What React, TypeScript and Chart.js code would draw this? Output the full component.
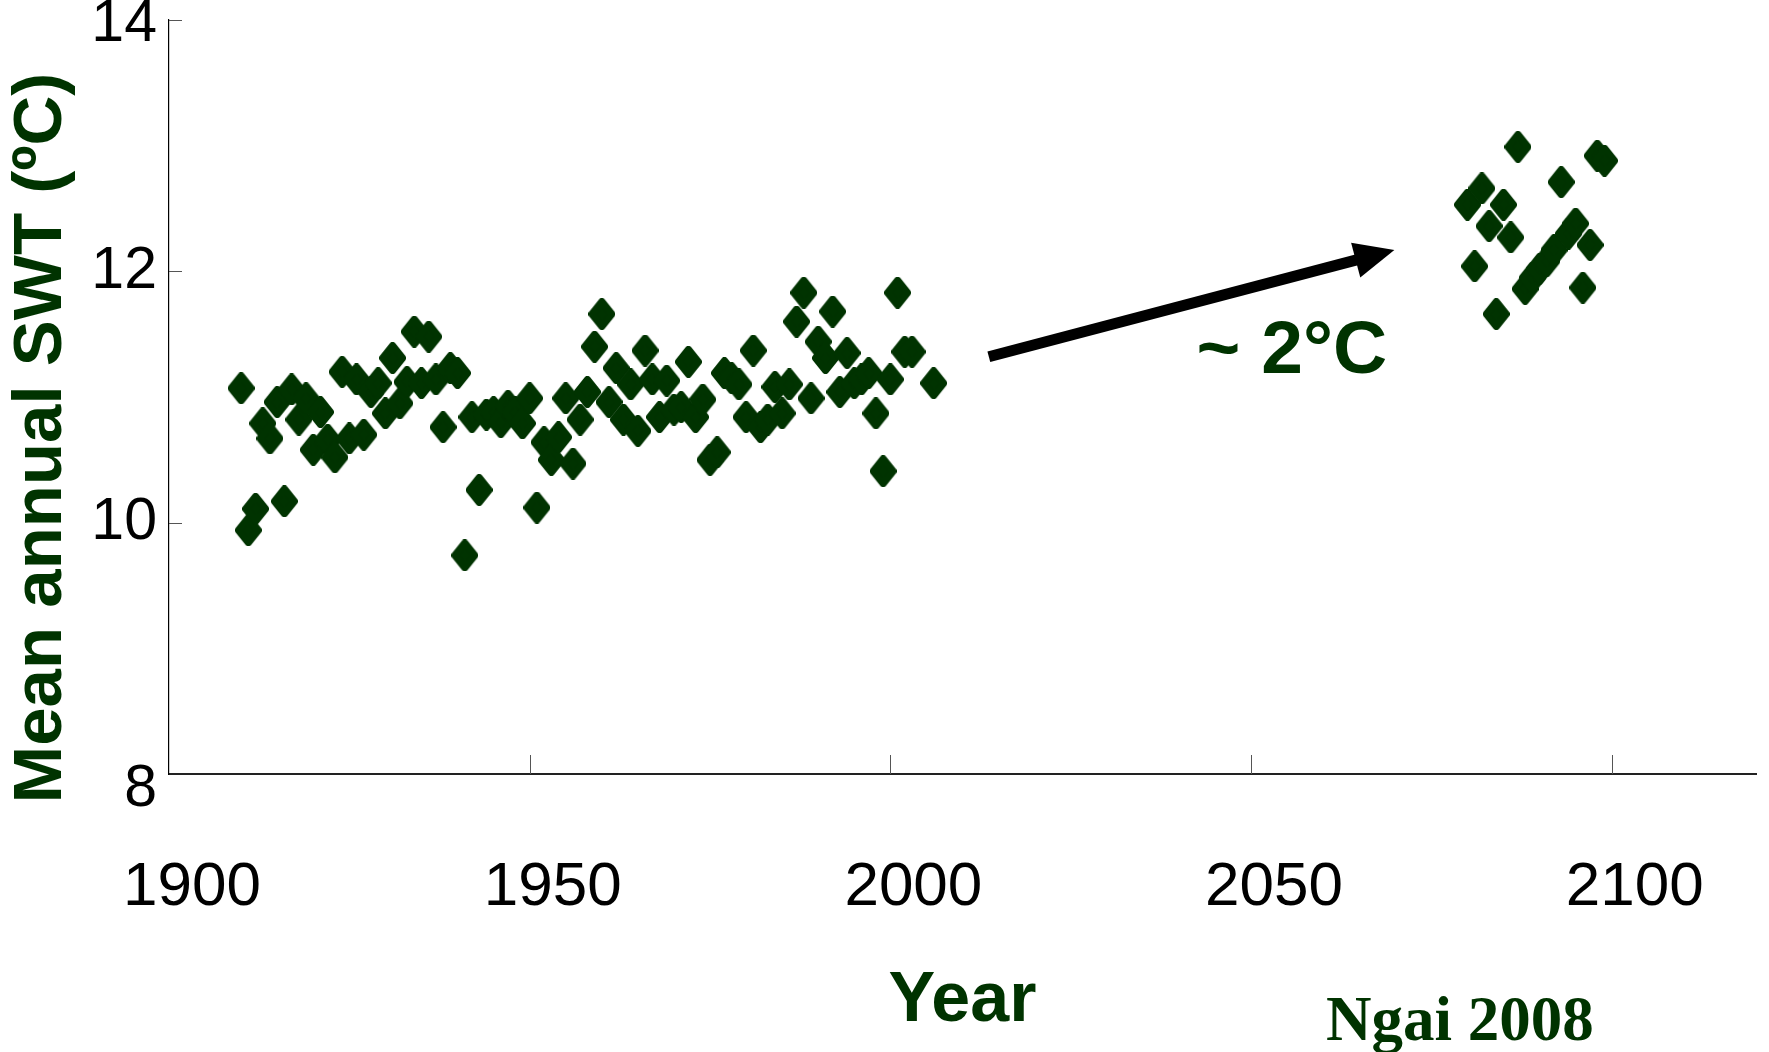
import { useEffect, useRef } from "react";
import { Chart, registerables } from "chart.js";

Chart.register(...registerables);

// Observed mean annual surface water temperature (°C), 1910–2006
const historicalYears = [
  1910, 1911, 1912, 1913, 1914, 1915, 1916, 1917, 1918, 1919,
  1920, 1921, 1922, 1923, 1924, 1925, 1926, 1927, 1928, 1929,
  1930, 1931, 1932, 1933, 1934, 1935, 1936, 1937, 1938, 1939,
  1940, 1941, 1942, 1943, 1944, 1945, 1946, 1947, 1948, 1949,
  1950, 1951, 1952, 1953, 1954, 1955, 1956, 1957, 1958, 1959,
  1960, 1961, 1962, 1963, 1964, 1965, 1966, 1967, 1968, 1969,
  1970, 1971, 1972, 1973, 1974, 1975, 1976, 1977, 1978, 1979,
  1980, 1981, 1982, 1983, 1984, 1985, 1986, 1987, 1988, 1989,
  1990, 1991, 1992, 1993, 1994, 1995, 1996, 1997, 1998, 1999,
  2000, 2001, 2002, 2003, 2006,
];
const historicalSWT = [
  11.07, 9.94, 10.11, 10.79, 10.67, 10.96, 10.17, 11.06, 10.82, 10.99,
  10.58, 10.88, 10.66, 10.52, 11.2, 10.67, 11.14, 10.7, 11.04, 11.11,
  10.87, 11.31, 10.95, 11.12, 11.52, 11.11, 11.48, 11.14, 10.76, 11.23,
  11.19, 9.74, 10.84, 10.26, 10.86, 10.88, 10.8, 10.93, 10.88, 10.79,
  10.99, 10.12, 10.64, 10.5, 10.68, 10.99, 10.47, 10.82, 11.04, 11.4,
  11.66, 10.96, 11.23, 10.82, 11.1, 10.73, 11.37, 11.14, 10.84, 11.13,
  10.9, 10.92, 11.28, 10.84, 10.98, 10.5, 10.56, 11.19, 11.15, 11.1,
  10.84, 11.37, 10.76, 10.82, 11.08, 10.87, 11.1, 11.6, 11.83, 10.99,
  11.44, 11.31, 11.68, 11.04, 11.35, 11.11, 11.14, 11.19, 10.87, 10.41,
  11.14, 11.83, 11.36, 11.36, 11.11,
];

// Projected mean annual surface water temperature (°C), 2080–2099
const projectedYears = [
  2080, 2081, 2082, 2083, 2084, 2085, 2086, 2087, 2088, 2089,
  2090, 2091, 2092, 2093, 2094, 2095, 2096, 2097, 2098, 2099,
];
const projectedSWT = [
  12.53, 12.04, 12.66, 12.36, 11.66, 12.53, 12.27, 12.99, 11.86, 11.95,
  12.02, 12.08, 12.17, 12.71, 12.3, 12.38, 11.87, 12.21, 12.92, 12.88,
];

const xTickValues = [1900, 1950, 2000, 2050, 2100];
const yTickValues = [8, 10, 12, 14];

// Warming arrow (year, °C) and its label anchor
const arrowStart = [2013.65, 11.32];
const arrowEnd = [2069.87, 12.17];
const warmingLabel = "~ 2°C";
const warmingLabelAnchor = [2042.45, 11.19];

const axisTitleY = "Mean annual SWT (ºC)";
const axisTitleX = "Year";
const sourceNote = "Ngai 2008";

const DARK_GREEN = "#003300";
const SANS = '"Liberation Sans", Arial, Helvetica, sans-serif';
const SERIF = '"Liberation Serif", "Times New Roman", serif';

const WIDTH = 1769;
const HEIGHT = 1052;

function makeDiamond(w: number, h: number, color: string) {
  const c = document.createElement("canvas");
  c.width = w;
  c.height = h;
  const ctx = c.getContext("2d")!;
  const r = 3.5;
  ctx.fillStyle = color;
  ctx.strokeStyle = color;
  ctx.lineWidth = r * 2;
  ctx.lineJoin = "round";
  ctx.beginPath();
  ctx.moveTo(w / 2, r);
  ctx.lineTo(w - r, h / 2);
  ctx.lineTo(w / 2, h - r);
  ctx.lineTo(r, h / 2);
  ctx.closePath();
  ctx.fill();
  ctx.stroke();
  return c;
}

const decorations = {
  id: "decorations",
  afterDraw(chart: any) {
    const { ctx, chartArea } = chart;
    const x = chart.scales.x;
    const y = chart.scales.y;
    ctx.save();

    // inward tick marks
    ctx.strokeStyle = "#555";
    ctx.lineWidth = 1;
    xTickValues.forEach((v) => {
      if (v === x.min) return;
      const px = Math.round(x.getPixelForValue(v)) + 0.5;
      ctx.beginPath();
      ctx.moveTo(px, chartArea.bottom);
      ctx.lineTo(px, chartArea.bottom - 19);
      ctx.stroke();
    });
    yTickValues.forEach((v) => {
      if (v === y.min) return;
      const py = Math.round(y.getPixelForValue(v)) + 0.5;
      ctx.beginPath();
      ctx.moveTo(chartArea.left, py);
      ctx.lineTo(chartArea.left + 13, py);
      ctx.stroke();
    });

    // value labels on the vertical axis; the end labels are nudged
    // down so they stay clear of the canvas top and the year axis
    ctx.fillStyle = "#000";
    ctx.font = `59px ${SANS}`;
    ctx.textAlign = "right";
    ctx.textBaseline = "middle";
    y.ticks.forEach((t: any) => {
      let py = y.getPixelForValue(t.value);
      if (t.value === y.min) py += 16;
      if (t.value === y.max) py += 5;
      ctx.fillText(String(t.value), chartArea.left - 12, py);
    });

    // vertical axis title
    ctx.save();
    ctx.translate(42, 438);
    ctx.rotate(-Math.PI / 2);
    ctx.fillStyle = DARK_GREEN;
    ctx.font = `bold 69px ${SANS}`;
    ctx.textAlign = "center";
    ctx.textBaseline = "middle";
    ctx.fillText(axisTitleY, 0, 0);
    ctx.restore();

    // warming arrow
    const x0 = x.getPixelForValue(arrowStart[0]);
    const y0 = y.getPixelForValue(arrowStart[1]);
    const x1 = x.getPixelForValue(arrowEnd[0]);
    const y1 = y.getPixelForValue(arrowEnd[1]);
    const ang = Math.atan2(y1 - y0, x1 - x0);
    const headLen = 40;
    const headHalf = 18;
    const bx = x1 - headLen * Math.cos(ang);
    const by = y1 - headLen * Math.sin(ang);
    ctx.strokeStyle = "#000";
    ctx.fillStyle = "#000";
    ctx.lineWidth = 11;
    ctx.lineCap = "butt";
    ctx.beginPath();
    ctx.moveTo(x0, y0);
    ctx.lineTo(bx + 2 * Math.cos(ang), by + 2 * Math.sin(ang));
    ctx.stroke();
    ctx.beginPath();
    ctx.moveTo(x1, y1);
    ctx.lineTo(bx + headHalf * Math.sin(ang), by - headHalf * Math.cos(ang));
    ctx.lineTo(bx - headHalf * Math.sin(ang), by + headHalf * Math.cos(ang));
    ctx.closePath();
    ctx.fill();

    // warming label
    ctx.fillStyle = DARK_GREEN;
    ctx.font = `bold 75px ${SANS}`;
    ctx.textAlign = "left";
    ctx.textBaseline = "alphabetic";
    ctx.fillText(
      warmingLabel,
      x.getPixelForValue(warmingLabelAnchor[0]),
      y.getPixelForValue(warmingLabelAnchor[1])
    );

    // source note
    ctx.font = `bold 63px ${SERIF}`;
    ctx.fillText(sourceNote, 1326, 1040);

    ctx.restore();
  },
};

export default function App() {
  const canvasRef = useRef<HTMLCanvasElement | null>(null);

  useEffect(() => {
    const canvas = canvasRef.current;
    if (!canvas) return;
    const diamond = makeDiamond(27, 32, DARK_GREEN);

    const chart = new Chart(canvas, {
      type: "scatter",
      data: {
        datasets: [
          {
            label: "Observed",
            data: historicalYears.map((yr, i) => ({ x: yr, y: historicalSWT[i] })),
            pointStyle: diamond as any,
            backgroundColor: DARK_GREEN,
            borderColor: DARK_GREEN,
          },
          {
            label: "Projected",
            data: projectedYears.map((yr, i) => ({ x: yr, y: projectedSWT[i] })),
            pointStyle: diamond as any,
            backgroundColor: DARK_GREEN,
            borderColor: DARK_GREEN,
          },
        ],
      },
      options: {
        animation: false,
        responsive: false,
        devicePixelRatio: 1,
        layout: { padding: { top: 20, right: 13, left: 0, bottom: 0 } },
        plugins: {
          legend: { display: false },
          tooltip: { enabled: false },
        },
        scales: {
          x: {
            type: "linear",
            min: 1900,
            max: 2120,
            afterBuildTicks: (scale: any) => {
              scale.ticks = xTickValues.map((v) => ({ value: v }));
            },
            afterFit: (scale: any) => {
              scale.height = 278;
              scale.paddingLeft = 0;
              scale.paddingRight = 0;
            },
            grid: { display: false },
            border: { display: true, color: "#222", width: 2 },
            ticks: {
              autoSkip: false,
              maxRotation: 0,
              padding: 69,
              labelOffset: 23,
              color: "#000",
              font: { family: SANS, size: 62 },
              callback: (v: any) => String(v),
            },
            title: {
              display: true,
              text: axisTitleX,
              color: DARK_GREEN,
              font: { family: SANS, size: 70, weight: "bold" },
              padding: { top: 0, bottom: 8 },
            },
          },
          y: {
            type: "linear",
            min: 8,
            max: 14,
            afterBuildTicks: (scale: any) => {
              scale.ticks = yTickValues.map((v) => ({ value: v }));
            },
            afterFit: (scale: any) => {
              scale.width = 169;
              scale.paddingTop = 0;
              scale.paddingBottom = 0;
            },
            grid: { display: false },
            border: { display: true, color: "#000", width: 1.2 },
            ticks: { display: false },
          },
        },
      },
      plugins: [decorations],
    });

    return () => chart.destroy();
  }, []);

  return (
    <div
      style={{
        position: "fixed",
        left: 0,
        top: 0,
        width: WIDTH,
        height: HEIGHT,
        background: "#fff",
      }}
    >
      <canvas ref={canvasRef} width={WIDTH} height={HEIGHT} />
    </div>
  );
}
